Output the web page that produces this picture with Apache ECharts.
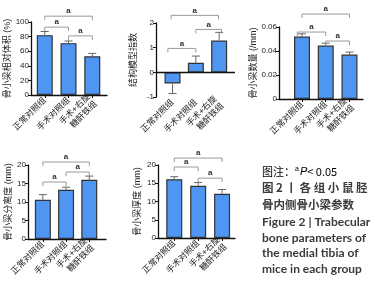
<!DOCTYPE html>
<html>
<head>
<meta charset="utf-8">
<script src="https://cdn.jsdelivr.net/npm/echarts@6/dist/echarts.min.js"></script>
<style>
html, body { margin: 0; padding: 0; background: #fff; }
#chart { width: 374px; height: 297px; }
</style>
</head>
<body>
<div id="chart"></div>
<script>
	var groups = [ "正常对照组", "手术对照组", "手术+右旋\n糖酐铁组" ];
	var groupPos = [ 1, 2, 3 ];

	// 骨小梁相对体积 (%)
	var bvMean = [ 82, 71, 53 ];
	var bvSd = [ 5, 3, 4 ];
	var bvSig = [ [ 1, 2, 93 ], [ 2, 3, 81 ], [ 1, 3, 108 ] ];

	// 结构模型指数
	var smiMean = [ -0.45, 0.39, 1.29 ];
	var smiSd = [ 0.41, 0.27, 0.33 ];
	var smiSig = [ [ 0.8, 2, 0.97 ], [ 2, 3.1, 1.74 ], [ 0.94, 2.97, 2.31 ] ];

	// 骨小梁数量 (/mm)
	var tbnMean = [ 0.052, 0.0445, 0.037 ];
	var tbnSd = [ 0.0023, 0.002, 0.0021 ];
	var tbnSig = [ [ 0.8, 2, 0.0558 ], [ 2, 3, 0.0483 ], [ 1, 3, 0.0708 ] ];

	// 骨小梁分离度 (mm)
	var tbspMean = [ 10.6, 13.3, 16.0 ];
	var tbspSd = [ 1.4, 0.7, 1.0 ];
	var tbspSig = [ [ 1, 2, 15.4 ], [ 2, 3, 18.1 ], [ 1, 3, 20.8 ] ];

	// 骨小梁厚度 (mm)
	var tbthMean = [ 16.1, 14.3, 12.1 ];
	var tbthSd = [ 0.7, 0.9, 1.2 ];
	var tbthSig = [ [ 1, 2, 19.45 ], [ 2, 3, 16.4 ], [ 1, 3, 21.9 ] ];

	var panels = [
		{ name : "骨小梁相对体积 (%)", mean : bvMean, sd : bvSd, sig : bvSig, yMin : 0, yMax : 100, step : 20,
			box : [ 31, 22, 76, 73 ], xMin : 0.42, xMax : 3.62, gap : 18 },
		{ name : "结构模型指数", mean : smiMean, sd : smiSd, sig : smiSig, yMin : -1, yMax : 2, step : 1,
			box : [ 156, 23, 79, 74 ], xMin : 0.29, xMax : 3.68, gap : 18, zeroLine : true },
		{ name : "骨小梁数量 (/mm)", mean : tbnMean, sd : tbnSd, sig : tbnSig, yMin : 0, yMax : 0.06, step : 0.02,
			box : [ 279, 27, 84, 72 ], xMin : 0.03, xMax : 3.57, gap : 16 },
		{ name : "骨小梁分离度 (mm)", mean : tbspMean, sd : tbspSd, sig : tbspSig, yMin : 0, yMax : 20, step : 5,
			box : [ 28, 165, 78, 74 ], xMin : 0.36, xMax : 3.72, gap : 15 },
		{ name : "骨小梁厚度 (mm)", mean : tbthMean, sd : tbthSd, sig : tbthSig, yMin : 0, yMax : 20, step : 5,
			box : [ 158, 165, 77, 73 ], xMin : 0.32, xMax : 3.54, gap : 16 }
	];

	function renderErrorBar(params, api) {
		var x = api.value(0);
		var p0 = api.coord([ x, api.value(1) ]);
		var p1 = api.coord([ x, api.value(2) ]);
		var style = { stroke : "#666", lineWidth : 1 };
		return {
			type : "group",
			children : [
				{ type : "line", shape : { x1 : p0[0], y1 : p0[1], x2 : p1[0], y2 : p1[1] }, style : style },
				{ type : "line", shape : { x1 : p1[0] - 4, y1 : p1[1], x2 : p1[0] + 4, y2 : p1[1] }, style : style }
			]
		};
	}

	function renderBracket(params, api) {
		var a = api.coord([ api.value(0), api.value(2) ]);
		var b = api.coord([ api.value(1), api.value(2) ]);
		return {
			type : "group",
			children : [ {
				type : "polyline",
				shape : { points : [ [ a[0], a[1] + 4 ], [ a[0], a[1] ], [ b[0], b[1] ], [ b[0], b[1] + 4 ] ] },
				style : { stroke : "#9a9a9a", fill : null, lineWidth : 1 }
			}, {
				type : "text",
				style : { text : "a", x : (a[0] + b[0]) / 2, y : a[1] - 1, align : "center", verticalAlign : "bottom",
					fontSize : 8, fontWeight : "bold", fill : "#333", fontFamily : "Liberation Sans" }
			} ]
		};
	}

	var grid = [], xAxis = [], yAxis = [], series = [];

	panels.forEach(function(p, i) {
		grid.push({ left : p.box[0], top : p.box[1], width : p.box[2], height : p.box[3] });
		xAxis.push({
			type : "value",
			gridIndex : i,
			min : p.xMin,
			max : p.xMax,
			splitLine : { show : false },
			axisLine : { show : !p.zeroLine, onZero : false, lineStyle : { color : "#111", width : 1.3 } },
			axisTick : { show : !p.zeroLine, customValues : groupPos, length : 3, lineStyle : { color : "#111" } },
			axisLabel : {
				customValues : groupPos,
				rotate : 45,
				margin : 4,
				fontSize : 8.5,
				lineHeight : 10,
				color : "#222",
				formatter : function(v) {
					return groups[Math.round(v) - 1];
				}
			}
		});
		yAxis.push({
			type : "value",
			gridIndex : i,
			min : p.yMin,
			max : p.yMax,
			interval : p.step,
			name : p.name,
			nameLocation : "middle",
			nameGap : p.gap,
			nameTextStyle : { fontSize : 9, color : "#222" },
			splitLine : { show : false },
			axisLine : { show : true, lineStyle : { color : "#111", width : 1.3 } },
			axisTick : { show : true, length : 3, lineStyle : { color : "#111" } },
			axisLabel : { fontSize : 8, margin : 2, color : "#222" }
		});

		var barData = [], errData = [];
		for (var k = 0; k < groupPos.length; k++) {
			var m = p.mean[k];
			barData.push([ groupPos[k], m ]);
			errData.push([ groupPos[k], m, m < 0 ? m - p.sd[k] : m + p.sd[k] ]);
		}
		var bar = {
			type : "bar",
			xAxisIndex : i,
			yAxisIndex : i,
			barWidth : 16,
			data : barData,
			itemStyle : { color : "#4f95f2", borderColor : "#333", borderWidth : 1.2 },
			silent : true
		};
		if (p.zeroLine) {
			bar.markLine = {
				silent : true,
				symbol : "none",
				label : { show : false },
				lineStyle : { color : "#111", width : 1.3, type : "solid" },
				data : [ { yAxis : 0 } ]
			};
		}
		series.push(bar);
		series.push({
			type : "custom",
			xAxisIndex : i,
			yAxisIndex : i,
			renderItem : renderErrorBar,
			encode : { x : 0, y : [ 1, 2 ] },
			data : errData,
			z : 3
		});
		series.push({
			type : "custom",
			xAxisIndex : i,
			yAxisIndex : i,
			renderItem : renderBracket,
			encode : { x : [ 0, 1 ], y : 2 },
			data : p.sig,
			clip : false,
			z : 4
		});
	});

	var capStyle = { fontSize : 11.5, fontWeight : "bold", fill : "#3b3b3b",
		fontFamily : "Noto Sans CJK SC", verticalAlign : "middle" };
	var enStyle = { fontSize : 12, fontWeight : "bold", fill : "#3b3b3b",
		fontFamily : "Lato", verticalAlign : "middle" };
	var captionCn = [ "图 2 丨 各 组 小 鼠 胫", "骨内侧骨小梁参数" ];
	var captionEn = [ "Figure 2 | Trabecular", "bone parameters of", "the medial tibia of", "mice in each group" ];

	var graphic = [ {
		type : "text",
		x : 262,
		y : 172,
		style : {
			text : "{n|图注：}{s|a}{i|P}{n|< 0.05}",
			verticalAlign : "middle",
			rich : {
				n : { fontSize : 11, fontFamily : "Noto Sans CJK SC", color : "#444" },
				s : { fontSize : 7, fontFamily : "Liberation Sans", color : "#444", verticalAlign : "top", padding : [ 0, 1, 6, 0 ] },
				i : { fontSize : 11, fontFamily : "Liberation Sans", fontStyle : "italic", color : "#444" }
			}
		}
	} ];
	captionCn.forEach(function(t, k) {
		graphic.push({ type : "text", x : 262, y : 188 + k * 17, style : Object.assign({ text : t }, capStyle) });
	});
	captionEn.forEach(function(t, k) {
		graphic.push({ type : "text", x : 262, y : 222 + k * 15.7, style : Object.assign({ text : t }, enStyle) });
	});

	var chart = echarts.init(document.getElementById("chart"));
	chart.setOption({
		animation : false,
		textStyle : { fontFamily : "Liberation Sans, Noto Sans CJK SC" },
		grid : grid,
		xAxis : xAxis,
		yAxis : yAxis,
		series : series,
		graphic : graphic
	});
</script>
</body>
</html>
